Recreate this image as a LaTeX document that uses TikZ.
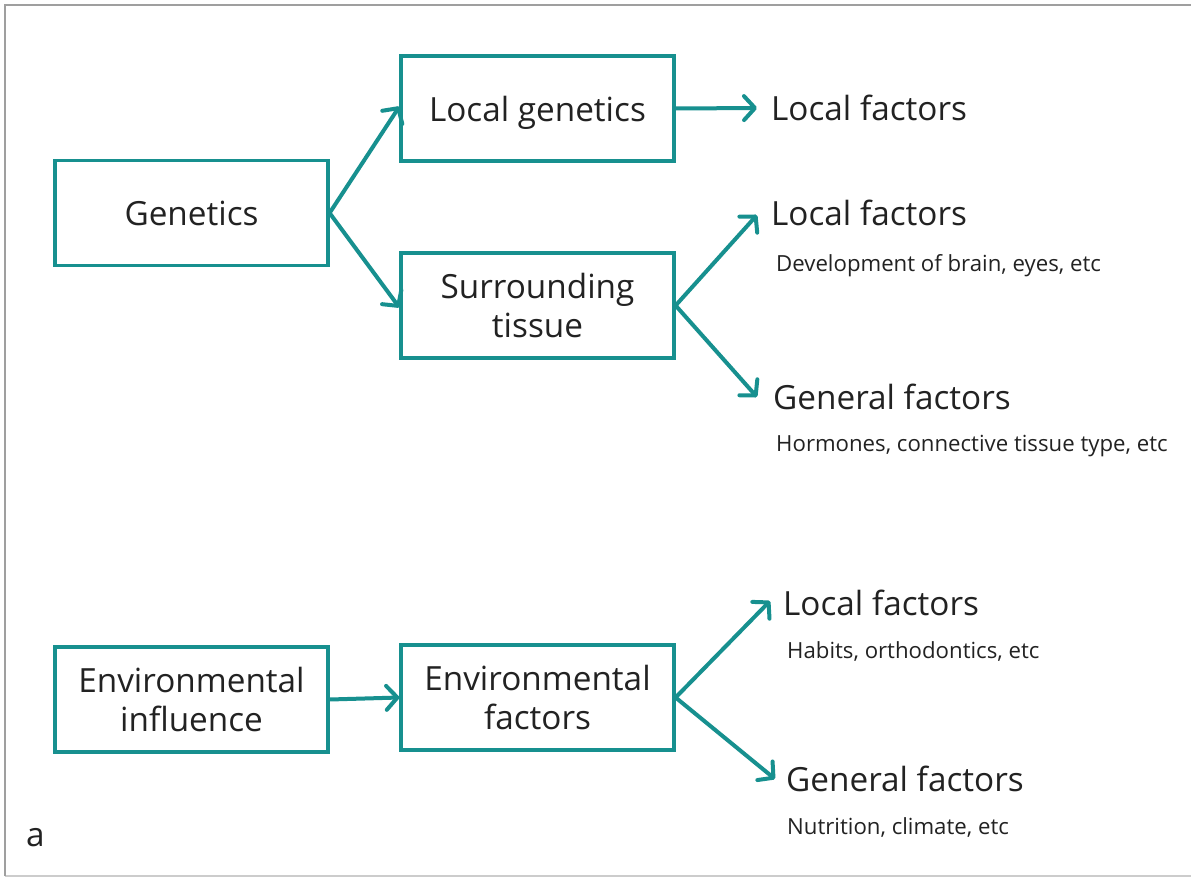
\documentclass[tikz,border=0pt]{standalone}
\usepackage{fontspec}
\setmainfont{Open Sans}
\usetikzlibrary{arrows.meta}
\definecolor{teal1}{HTML}{17908F}
\definecolor{ink}{HTML}{222222}
\begin{document}
\begin{tikzpicture}[x=1pt,y=-1pt,
  boxnode/.style={draw=teal1,line width=3.2pt,minimum width=273pt,minimum height=105pt,
    align=center,font=\fontsize{33.3}{38.5}\selectfont,text=ink,inner sep=0pt},
  biglabel/.style={anchor=west,font=\fontsize{33.3}{38}\selectfont,text=ink,inner sep=0pt},
  smalllabel/.style={anchor=west,font=\fontsize{22.2}{26}\selectfont,text=ink,inner sep=0pt},
  link/.style={draw=teal1,line width=4pt,line cap=round,
    -{Straight Barb[length=11pt,width=24pt,line width=4pt,round]}}]
\useasboundingbox (0,0) rectangle (1191,878);
\fill[white] (0,0) rectangle (1191,878);
% frame
\draw[gray!40,line width=1.5pt] (5,876) -- (1191,876);
\draw[gray!75,line width=2pt] (5,876) -- (5,5) -- (1191,5);

% boxes
\node[boxnode] (gen) at (191.5,213) {Genetics};
\node[boxnode,text depth=0pt] (lg) at (537.5,108.5) {Local genetics};
\node[boxnode] (st) at (537.5,305.5) {Surrounding\\tissue};
\node[boxnode] (ei) at (191.5,699.5) {Environmental\\influence};
\node[boxnode] (ef) at (537.5,697.5) {Environmental\\factors};

% outcome labels
\node[biglabel] (lf1) at (771,108) {Local factors};
\node[biglabel] (lf2) at (771,213) {Local factors};
\node[smalllabel] (d2) at (776,266) {Development of brain, eyes, etc};
\node[biglabel] (gf2) at (773,397) {General factors};
\node[smalllabel] (h2) at (776,446) {Hormones, connective tissue type, etc};
\node[biglabel] (lf3) at (783,603) {Local factors};
\node[smalllabel] (h3) at (787,651) {Habits, orthodontics, etc};
\node[biglabel] (gf3) at (786,779) {General factors};
\node[smalllabel] (n3) at (787,827) {Nutrition, climate, etc};
\node[anchor=west,font=\fontsize{33.3}{38}\selectfont,text=ink,inner sep=0pt] (tag) at (26,838) {a};

% connectors
\coordinate (g0) at (gen.east);
\draw[link] (g0) -- ([yshift=2pt]lg.west);
\draw[link] (g0) -- ([yshift=-2pt]st.west);
\draw[link] (lg.east) -- ([xshift=-14pt]lf1.west);
\coordinate (s0) at (st.east);
\draw[link] (s0) -- ([xshift=-14pt,yshift=-2pt]lf2.west);
\draw[link] (s0) -- ([xshift=-16pt]gf2.west);
\draw[link] (ei.east) -- (ef.west);
\coordinate (e0) at (ef.east);
\draw[link] (e0) -- ([xshift=-13pt,yshift=2pt]lf3.west);
\draw[link] (e0) -- ([xshift=-11pt]gf3.west);
\end{tikzpicture}
\end{document}
